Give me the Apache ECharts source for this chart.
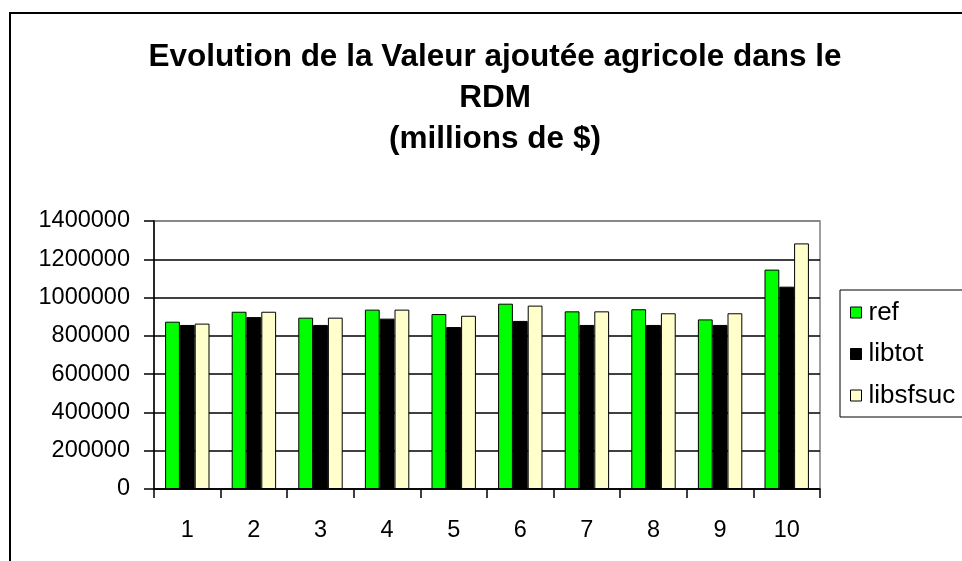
<!DOCTYPE html>
<html>
<head>
<meta charset="utf-8">
<script src="https://cdn.jsdelivr.net/npm/echarts@6/dist/echarts.min.js"></script>
<style>html,body{margin:0;padding:0;background:#fff;}#c{width:962px;height:561px;}</style>
</head>
<body>
<div id="c"></div>
<script>
const categories = ['1','2','3','4','5','6','7','8','9','10'];
const refValues = [874000, 926000, 895000, 937000, 914000, 968000, 928000, 939000, 886000, 1146000];
const libtotValues = [857000, 898000, 857000, 890000, 846000, 878000, 857000, 857000, 857000, 1057000];
const libsfsucValues = [864000, 926000, 895000, 937000, 905000, 958000, 928000, 918000, 918000, 1283000];
const seriesNames = ['ref', 'libtot', 'libsfsuc'];
const yTicks = [0, 200000, 400000, 600000, 800000, 1000000, 1200000, 1400000];

const FONT = 'Liberation Sans, Arial, sans-serif';
const chart = echarts.init(document.getElementById('c'));
chart.setOption({
  backgroundColor: '#fff',
  animation: false,
  graphic: [{
    type: 'rect', silent: true, z: -10,
    shape: {x: 10, y: 13, width: 1000, height: 600},
    style: {fill: '#fff', stroke: '#000', lineWidth: 2}
  }],
  title: {
    text: 'Evolution de la Valeur ajoutée agricole dans le\nRDM\n(millions de $)',
    left: 495, top: 37, padding: 0,
    textAlign: 'center',
    textStyle: {fontFamily: FONT, fontSize: 31.5, fontWeight: 'bold', color: '#000', lineHeight: 41}
  },
  legend: {
    data: seriesNames,
    orient: 'vertical',
    left: 840, top: 290,
    padding: [9, 120, 8, 10],
    itemWidth: 11, itemHeight: 11, itemGap: 14.5,
    icon: 'rect',
    borderColor: '#000', borderWidth: 1,
    itemStyle: {borderColor: '#000', borderWidth: 1},
    textStyle: {fontFamily: FONT, fontSize: 26, color: '#000', lineHeight: 27, padding: [0, 0, 0, 2]}
  },
  grid: {
    left: 154, right: 142, top: 221, bottom: 72,
    show: true, borderColor: '#808080', borderWidth: 1.5, backgroundColor: 'transparent'
  },
  xAxis: {
    type: 'category', data: categories,
    axisLine: {show: true, lineStyle: {color: '#000', width: 1.5}},
    axisTick: {show: true, inside: false, length: 9, alignWithLabel: false, lineStyle: {color: '#000', width: 1.5}},
    axisLabel: {fontFamily: FONT, fontSize: 23.5, color: '#000', margin: 30},
    splitLine: {show: false}
  },
  yAxis: {
    type: 'value', min: yTicks[0], max: yTicks[yTicks.length - 1], interval: yTicks[1] - yTicks[0],
    axisLine: {show: true, lineStyle: {color: '#000', width: 1.5}},
    axisTick: {show: true, inside: false, length: 10, lineStyle: {color: '#000', width: 1.5}},
    axisLabel: {fontFamily: FONT, fontSize: 23.5, color: '#000', margin: 24,
      formatter: function (v) { return String(v); }},
    splitLine: {show: true, lineStyle: {color: ['#000','#000','#000','#000','#000','#000','#000','#808080'], width: 1.5}}
  },
  series: [
    {name: seriesNames[0], type: 'bar', data: refValues, barGap: '0%', barCategoryGap: '33.3%',
      itemStyle: {color: '#00FF00', borderColor: '#000', borderWidth: 1}},
    {name: seriesNames[1], type: 'bar', data: libtotValues, barGap: '0%', barCategoryGap: '33.3%',
      itemStyle: {color: '#000000', borderColor: '#000', borderWidth: 1}},
    {name: seriesNames[2], type: 'bar', data: libsfsucValues, barGap: '0%', barCategoryGap: '33.3%',
      itemStyle: {color: '#FFFFCC', borderColor: '#000', borderWidth: 1}}
  ]
});
</script>
</body>
</html>
